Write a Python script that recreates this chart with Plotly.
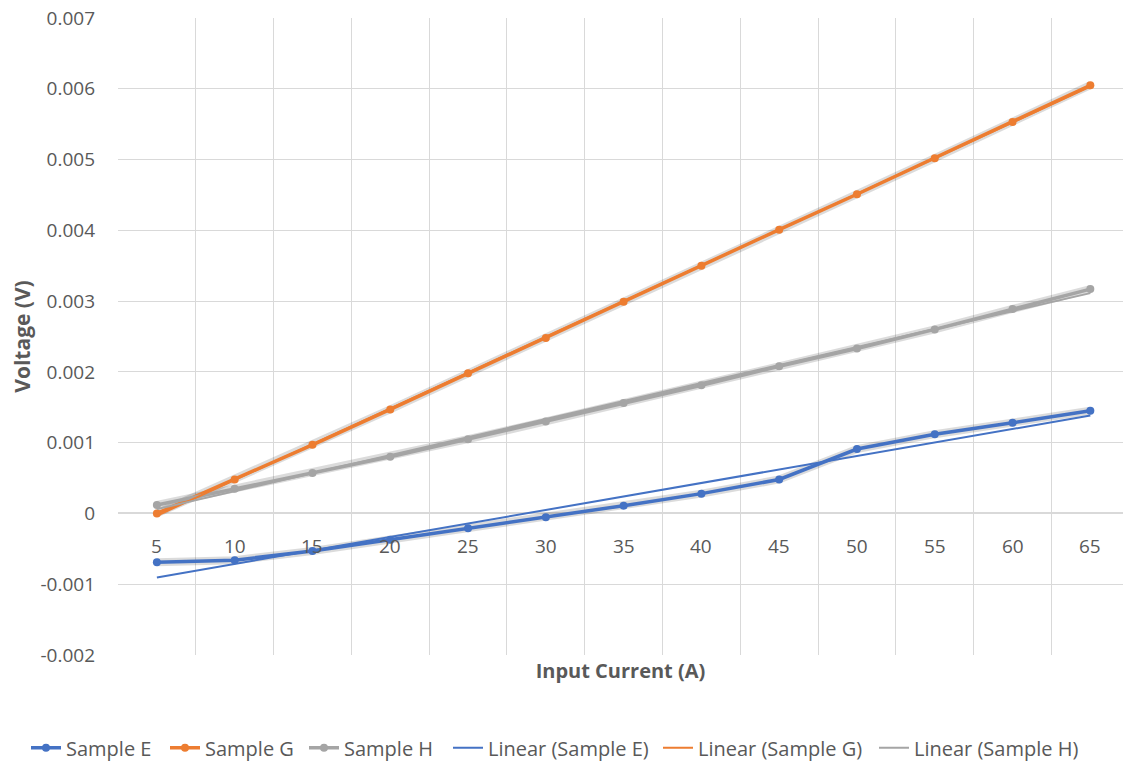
import numpy as np
import plotly.graph_objects as go

# Input current categories (A)
current = [5, 10, 15, 20, 25, 30, 35, 40, 45, 50, 55, 60, 65]

# Measured voltages (V)
sample_e = [-0.00069, -0.00066, -0.00053, -0.00037, -0.00021, -0.000055, 0.00011,
            0.00028, 0.00048, 0.00091, 0.00112, 0.00128, 0.00145]
sample_g = [0.0000, 0.00048, 0.00097, 0.00147, 0.00198, 0.00248, 0.00299,
            0.00350, 0.00401, 0.00451, 0.00502, 0.00553, 0.00605]
sample_h = [0.00012, 0.00035, 0.00057, 0.00080, 0.00105, 0.00130, 0.00156,
            0.00181, 0.00208, 0.00233, 0.00260, 0.00289, 0.00317]

y_ticks = [-0.002, -0.001, 0, 0.001, 0.002, 0.003, 0.004, 0.005, 0.006, 0.007]
y_tick_labels = ["-0.002", "-0.001", "0", "0.001", "0.002", "0.003",
                 "0.004", "0.005", "0.006", "0.007"]

series = [
    ("Sample E", sample_e, "#4472C4"),
    ("Sample G", sample_g, "#ED7D31"),
    ("Sample H", sample_h, "#A5A5A5"),
]

# left edge (px) of each legend entry along the bottom row
legend_left_px = [26, 165, 304, 448, 658, 874]

idx = np.arange(len(current))
text_color = "#595959"
grid_color = "#D9D9D9"
font_family = "Open Sans, Lato, sans-serif"
fig_w, fig_h = 1123, 763

fig = go.Figure()

# soft drop shadows under the data lines
for name, vals, color in series:
    fig.add_trace(go.Scatter(
        x=idx, y=vals, mode="lines", hoverinfo="skip", showlegend=False,
        line=dict(color="rgba(0,0,0,0.14)", width=8),
    ))

legend_ids = ["legend"] + [f"legend{k}" for k in range(2, 7)]

# data series
for k, (name, vals, color) in enumerate(series):
    fig.add_trace(go.Scatter(
        x=idx, y=vals, mode="lines+markers", name=name, legend=legend_ids[k],
        line=dict(color=color, width=3.5),
        marker=dict(color=color, size=8, symbol="circle"),
    ))

# least-squares linear trendlines
for k, (name, vals, color) in enumerate(series):
    slope, intercept = np.polyfit(idx, vals, 1)
    fig.add_trace(go.Scatter(
        x=idx, y=slope * idx + intercept, mode="lines",
        name=f"Linear ({name})", legend=legend_ids[k + 3],
        line=dict(color=color, width=2),
    ))

# category labels sit next to the horizontal axis at y = 0
for i, c in enumerate(current):
    fig.add_annotation(
        x=i, y=0, xref="x", yref="y", text=str(c), showarrow=False,
        yshift=-33, font=dict(size=19, color=text_color, family=font_family),
    )

legend_layout = {}
for lid, left in zip(legend_ids, legend_left_px):
    legend_layout[lid] = dict(
        orientation="h", xref="container", yref="container",
        x=left / fig_w, xanchor="left", y=0.02, yanchor="middle",
        font=dict(size=20, color=text_color, family=font_family),
        itemwidth=30, bgcolor="rgba(0,0,0,0)",
    )

fig.update_layout(
    width=fig_w, height=fig_h,
    margin=dict(l=118, r=0, t=18, b=108),
    paper_bgcolor="white", plot_bgcolor="white",
    font=dict(family=font_family, color=text_color),
    showlegend=True,
    **legend_layout,
)

fig.update_xaxes(
    range=[-0.5, 12.42], showticklabels=False, showgrid=False,
    zeroline=False, showline=False,
    minor=dict(tickmode="array", tickvals=[i - 0.5 for i in range(len(current) + 1)],
               showgrid=True, gridcolor=grid_color, gridwidth=1),
    title=dict(text="<b>Input Current (A)</b>", standoff=8,
               font=dict(size=20, color=text_color, family=font_family)),
)

fig.update_yaxes(
    range=[-0.002, 0.007], tickmode="array", tickvals=y_ticks, ticktext=y_tick_labels,
    showgrid=True, gridcolor=grid_color, gridwidth=1,
    zeroline=True, zerolinecolor=grid_color, zerolinewidth=1.5,
    tickfont=dict(size=19, color=text_color, family=font_family),
    ticks="", ticklabelstandoff=22,
    title=dict(text="<b>Voltage (V)</b>", standoff=4,
               font=dict(size=21, color=text_color, family=font_family)),
)

fig.write_html("out.html")
